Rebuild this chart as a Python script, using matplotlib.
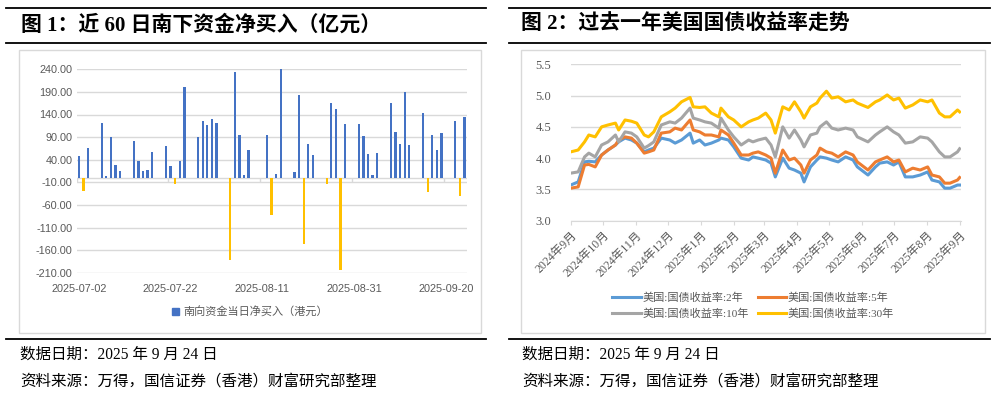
import pandas as pd
import matplotlib
matplotlib.use("Agg")
import matplotlib.pyplot as plt
from matplotlib.lines import Line2D
from matplotlib.patches import Rectangle

plt.rcParams['font.family'] = ['Liberation Serif', 'Noto Sans CJK SC']

# ---- left chart: southbound net buying (HKD 100m) ----
flow_dates = [
    "2025-07-02", "2025-07-03", "2025-07-04",
    "2025-07-07", "2025-07-08", "2025-07-09", "2025-07-10", "2025-07-11",
    "2025-07-14", "2025-07-15", "2025-07-16", "2025-07-17", "2025-07-18",
    "2025-07-21", "2025-07-22", "2025-07-23", "2025-07-24", "2025-07-25",
    "2025-07-28", "2025-07-29", "2025-07-30", "2025-07-31", "2025-08-01",
    "2025-08-04", "2025-08-05", "2025-08-06", "2025-08-07", "2025-08-08",
    "2025-08-12", "2025-08-13", "2025-08-14", "2025-08-15",
    "2025-08-18", "2025-08-19", "2025-08-20", "2025-08-21", "2025-08-22",
    "2025-08-25", "2025-08-26", "2025-08-27", "2025-08-28", "2025-08-29",
    "2025-09-01", "2025-09-02", "2025-09-03", "2025-09-04", "2025-09-05",
    "2025-09-08", "2025-09-09", "2025-09-10", "2025-09-11", "2025-09-12",
    "2025-09-15", "2025-09-16", "2025-09-17", "2025-09-18", "2025-09-19",
    "2025-09-22", "2025-09-23", "2025-09-24",
]
flow_values = [
    49, -30, 66,
    121, 4, 91, 29, 16,
    82, 38, 15, 18, 58,
    71, 26, -14, 38, 201,
    91, 125, 116, 130, 122,
    -181, 233, 94, 6, 62,
    94, -83, 9, 249,
    13, 184, -147, 75, 51,
    -14, 165, 152, -205, 120,
    119, 92, 53, 6, 55,
    166, 101, 75, 189, 73,
    144, -32, 94, 62, 98,
    126, -41, 135,
]
flow_ticks = ["2025-07-02", "2025-07-22", "2025-08-11", "2025-08-31", "2025-09-20"]
flow_yticks = [240, 190, 140, 90, 40, -10, -60, -110, -160, -210]

# ---- right chart: US treasury yields ----
yield_dates = [
    "2024-09-24", "2024-10-01", "2024-10-07", "2024-10-11", "2024-10-17", "2024-10-23",
    "2024-10-29", "2024-11-05", "2024-11-08", "2024-11-14", "2024-11-20", "2024-11-25",
    "2024-12-02", "2024-12-06", "2024-12-11", "2024-12-18", "2024-12-26", "2024-12-31",
    "2025-01-06", "2025-01-14", "2025-01-17", "2025-01-23", "2025-01-28", "2025-02-03",
    "2025-02-10", "2025-02-12", "2025-02-19", "2025-02-24", "2025-03-03", "2025-03-10",
    "2025-03-14", "2025-03-19", "2025-03-26", "2025-03-31", "2025-04-04", "2025-04-11",
    "2025-04-17", "2025-04-22", "2025-04-28", "2025-05-01", "2025-05-07", "2025-05-13",
    "2025-05-16", "2025-05-22", "2025-05-27", "2025-06-02", "2025-06-09", "2025-06-16",
    "2025-06-20", "2025-06-30", "2025-07-07", "2025-07-11", "2025-07-18", "2025-07-24",
    "2025-07-29", "2025-08-04", "2025-08-11", "2025-08-18", "2025-08-25", "2025-08-29",
    "2025-09-05", "2025-09-10", "2025-09-15", "2025-09-22", "2025-09-24",
]
y2 = [
    3.57, 3.62, 3.94, 3.95, 3.94, 4.05, 4.13, 4.21, 4.26, 4.32, 4.29, 4.24,
    4.10, 4.13, 4.16, 4.32, 4.29, 4.24, 4.29, 4.40, 4.24, 4.29, 4.21, 4.24,
    4.29, 4.32, 4.29, 4.18, 4.00, 3.97, 4.02, 4.00, 3.97, 3.92, 3.70, 4.00,
    3.84, 3.81, 3.76, 3.62, 3.86, 3.97, 4.02, 4.00, 3.97, 3.94, 4.02, 3.97,
    3.86, 3.73, 3.86, 3.92, 3.94, 3.89, 3.94, 3.70, 3.70, 3.73, 3.78, 3.65,
    3.62, 3.52, 3.52, 3.57, 3.57,
]
y5 = [
    3.52, 3.54, 3.89, 3.90, 3.86, 4.05, 4.13, 4.21, 4.29, 4.34, 4.32, 4.24,
    4.08, 4.10, 4.13, 4.40, 4.42, 4.48, 4.45, 4.61, 4.45, 4.42, 4.37, 4.37,
    4.34, 4.45, 4.37, 4.24, 4.05, 4.05, 4.08, 4.10, 4.05, 4.00, 3.76, 4.13,
    3.97, 4.00, 3.89, 3.76, 3.97, 4.05, 4.16, 4.10, 4.08, 4.02, 4.10, 4.05,
    3.94, 3.81, 3.94, 3.97, 4.02, 3.94, 3.97, 3.78, 3.84, 3.81, 3.86, 3.73,
    3.70, 3.60, 3.60, 3.65, 3.69,
]
y10 = [
    3.76, 3.78, 4.02, 4.08, 4.02, 4.21, 4.26, 4.37, 4.26, 4.42, 4.40, 4.34,
    4.16, 4.20, 4.26, 4.53, 4.58, 4.56, 4.64, 4.80, 4.64, 4.61, 4.58, 4.56,
    4.48, 4.64, 4.45, 4.34, 4.21, 4.29, 4.26, 4.29, 4.32, 4.21, 4.02, 4.50,
    4.32, 4.45, 4.29, 4.18, 4.37, 4.40, 4.50, 4.58, 4.48, 4.45, 4.48, 4.45,
    4.34, 4.26, 4.37, 4.42, 4.50, 4.42, 4.37, 4.24, 4.26, 4.34, 4.32, 4.26,
    4.10, 4.02, 4.02, 4.10, 4.15,
]
y30 = [
    4.10, 4.13, 4.26, 4.37, 4.34, 4.50, 4.53, 4.56, 4.45, 4.61, 4.59, 4.56,
    4.37, 4.34, 4.42, 4.66, 4.74, 4.80, 4.90, 4.97, 4.82, 4.81, 4.82, 4.72,
    4.66, 4.80, 4.66, 4.61, 4.50, 4.58, 4.61, 4.64, 4.72, 4.61, 4.40, 4.82,
    4.77, 4.90, 4.74, 4.64, 4.82, 4.88, 4.96, 5.07, 4.96, 4.98, 4.90, 4.93,
    4.88, 4.81, 4.90, 4.93, 5.01, 4.93, 4.96, 4.80, 4.85, 4.93, 4.90, 4.93,
    4.72, 4.66, 4.66, 4.77, 4.74,
]
yield_names = ["美国:国债收益率:2年", "美国:国债收益率:5年", "美国:国债收益率:10年", "美国:国债收益率:30年"]
yield_colors = ["#5B9BD5", "#ED7D31", "#A5A5A5", "#FFC000"]
month_ticks = pd.date_range("2024-09-01", "2025-09-24", freq="MS") + pd.Timedelta(days=23)

W, H = 994, 395
fig = plt.figure(figsize=(W / 100, H / 100), dpi=100)


def fx(x):
    return x / W


def fy(y):
    return 1 - y / H


# panel frames, title rules and titles
for x0, x1 in [(6, 486), (509, 990)]:
    for yy in (7.5, 42.5, 338.5):
        fig.add_artist(Line2D([fx(x0), fx(x1)], [fy(yy), fy(yy)], color="black", lw=1.3))
fig.add_artist(Rectangle((fx(18.5), fy(333)), fx(462.5), 283 / H, fill=False,
                         edgecolor="#D9D9D9", lw=1))
fig.add_artist(Rectangle((fx(520.5), fy(333)), fx(464.5), 283 / H, fill=False,
                         edgecolor="#D9D9D9", lw=1))

fig.text(fx(21), fy(25), "图 1：近 60 日南下资金净买入（亿元）", fontsize=15,
         fontweight="bold", va="center", ha="left")
fig.text(fx(521), fy(25), "图 2：过去一年美国国债收益率走势", fontsize=15,
         fontweight="bold", va="center", ha="left")
for x0 in (20, 522):
    fig.text(fx(x0), fy(355), "数据日期：2025 年 9 月 24 日", fontsize=11.2, va="center")
    fig.text(fx(x0), fy(382), "资料来源：万得，国信证券（香港）财富研究部整理", fontsize=11.2,
             va="center")

# ---- left bar chart ----
ax1 = fig.add_axes([fx(76.7), fy(272.7), fx(390), 203.4 / H])
d = pd.to_datetime(flow_dates)
cols = ["#4472C4" if v >= 0 else "#FFC000" for v in flow_values]
ax1.bar(d, flow_values, width=0.5, color=cols, edgecolor="none", zorder=3)
ax1.set_ylim(-210, 240)
ax1.set_xlim(d[0] - pd.Timedelta(days=0.45), d[0] + pd.Timedelta(days=84.5))
ax1.set_yticks(flow_yticks)
ax1.set_yticklabels([f"{v:.2f}" for v in flow_yticks])
ax1.yaxis.grid(True, color="#D9D9D9", lw=1)
ax1.set_axisbelow(True)
ticks = pd.to_datetime(flow_ticks)
ax1.set_xticks(ticks)
ax1.set_xticklabels([t.strftime("%Y-%m-%d") for t in ticks])
ax1.axhline(0, color="#D9D9D9", lw=1, zorder=2)
bounds = [d[0] - pd.Timedelta(days=0.45)] + [t - pd.Timedelta(days=0.5) for t in ticks[1:]]
ax1.vlines(bounds, -10, 0, color="#D9D9D9", lw=1, zorder=2)
for s in ax1.spines.values():
    s.set_visible(False)
ax1.tick_params(length=0, labelsize=7.8, labelcolor="#595959", pad=3)
ax1.tick_params(axis="x", pad=8)
for lab in ax1.get_xticklabels() + ax1.get_yticklabels():
    lab.set_family(["Liberation Sans", "Noto Sans CJK SC"])
leg1 = fig.legend(handles=[Rectangle((0, 0), 1, 1, color="#4472C4")],
                  labels=["南向资金当日净买入（港元）"], loc="center",
                  bbox_to_anchor=(fx(250), fy(312)), frameon=False, handlelength=0.6,
                  handleheight=0.6, handletextpad=0.4,
                  prop={"family": ["Noto Sans CJK SC"], "size": 8})
for t in leg1.get_texts():
    t.set_color("#595959")

# ---- right line chart ----
ax2 = fig.add_axes([fx(570.7), fy(220.7), fx(390), 156.4 / H])
yd = pd.to_datetime(yield_dates)
lines = []
for vals, name, c in zip([y2, y5, y10, y30], yield_names, yield_colors):
    lines += ax2.plot(yd, vals, color=c, lw=2.2, label=name, solid_joinstyle="round")
ax2.set_xlim(pd.Timestamp("2024-09-24"), pd.Timestamp("2025-09-25"))
ax2.set_ylim(3.0, 5.5)
ax2.set_yticks([3.0, 3.5, 4.0, 4.5, 5.0, 5.5])
ax2.set_yticklabels(["3.0", "3.5", "4.0", "4.5", "5.0", "5.5"])
ax2.yaxis.grid(True, color="#D9D9D9", lw=1)
ax2.set_axisbelow(True)
ax2.set_xticks(month_ticks)
ax2.set_xticklabels([f"{t.year}年{t.month}月" for t in month_ticks], rotation=45,
                    ha="right", va="top", rotation_mode="anchor")
for k, s in ax2.spines.items():
    s.set_visible(k == "bottom")
ax2.spines["bottom"].set_color("#D9D9D9")
ax2.tick_params(axis="y", length=0, labelsize=9, labelcolor="#595959", pad=14)
ax2.tick_params(axis="x", length=3, color="#D9D9D9", labelsize=8.5, labelcolor="#595959",
                pad=3)
# legend is filled column-wise, so order the entries to read 2/5 then 10/30 by row
order = [0, 2, 1, 3]
leg2 = fig.legend(handles=[lines[i] for i in order], labels=[yield_names[i] for i in order],
                  loc="center", ncol=2, bbox_to_anchor=(fx(753), fy(306)), frameon=False,
                  handlelength=2.6, handletextpad=0.1, columnspacing=0.8, labelspacing=0.5,
                  prop={"size": 8})
for t in leg2.get_texts():
    t.set_color("#595959")

fig.savefig("out.png", dpi=100)
